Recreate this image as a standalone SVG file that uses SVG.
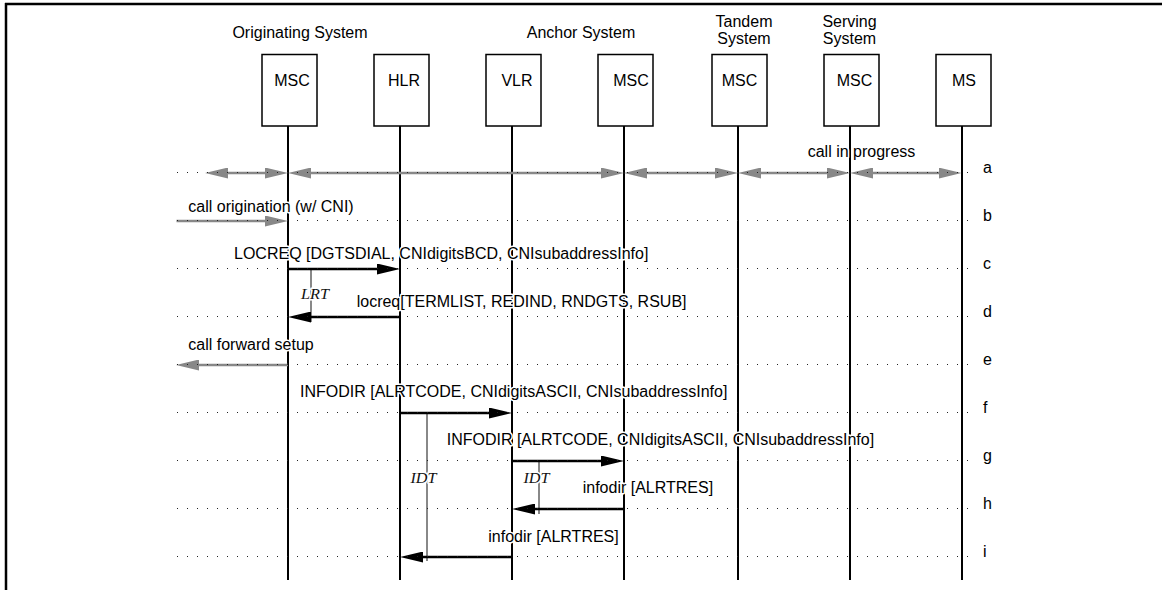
<svg xmlns="http://www.w3.org/2000/svg" width="1162" height="590" viewBox="0 0 1162 590">
<defs>
<style>
text{font-family:"Liberation Sans",Arial,sans-serif;font-size:16px;fill:#000;paint-order:stroke;stroke:#fff;stroke-width:3px;stroke-linejoin:round}
.hdr{text-anchor:middle}
.box{fill:#fff;stroke:#000;stroke-width:1.5}
.life{stroke:#000;stroke-width:2}
.row{stroke:#222;stroke-width:1;stroke-dasharray:1 9}
.blk{stroke:#000;stroke-width:2.3;fill:none}
.gry{stroke:#888;stroke-width:2.3;fill:none}
.tmr{stroke:#888;stroke-width:2}
.tl{font-family:"Liberation Serif","Times New Roman",serif;font-style:italic;font-size:15px;text-anchor:middle;fill:#111}
</style>
<marker id="hb" markerUnits="userSpaceOnUse" markerWidth="23" markerHeight="11" viewBox="0 0 23 11" refX="13" refY="5.5" orient="auto-start-reverse"><path d="M0,0 L23,5.5 L0,11 z" fill="#000"/></marker>
<marker id="hg" markerUnits="userSpaceOnUse" markerWidth="23" markerHeight="11" viewBox="0 0 23 11" refX="13" refY="5.5" orient="auto-start-reverse"><path d="M0,0 L23,5.5 L0,11 z" fill="#888"/></marker>
</defs>
<rect width="1162" height="590" fill="#fff"/>
<g id="frame" stroke="#000" stroke-width="2.5">
<line x1="5" y1="4" x2="1162" y2="4"/>
<line x1="6" y1="3" x2="6" y2="590"/>
</g>
<g id="headers">
<text class="hdr" x="300" y="38">Originating System</text>
<text class="hdr" x="581" y="38">Anchor System</text>
<text class="hdr" x="744" y="27">Tandem</text>
<text class="hdr" x="744" y="43.5">System</text>
<text class="hdr" x="849.5" y="27">Serving</text>
<text class="hdr" x="849.5" y="43.5">System</text>
</g>
<g id="lifelines">
<line class="life" x1="288" y1="126" x2="288" y2="580"/>
<line class="life" x1="400" y1="126" x2="400" y2="580"/>
<line class="life" x1="512" y1="126" x2="512" y2="580"/>
<line class="life" x1="624" y1="126" x2="624" y2="580"/>
<line class="life" x1="738" y1="126" x2="738" y2="580"/>
<line class="life" x1="850" y1="126" x2="850" y2="580"/>
<line class="life" x1="962" y1="126" x2="962" y2="580"/>
</g>
<g id="node-orig-msc"><rect class="box" x="262" y="54.5" width="55" height="71.5"/><text class="hdr" x="292" y="86">MSC</text></g>
<g id="node-hlr"><rect class="box" x="374" y="54.5" width="55" height="71.5"/><text class="hdr" x="404" y="86">HLR</text></g>
<g id="node-vlr"><rect class="box" x="486" y="54.5" width="55" height="71.5"/><text class="hdr" x="517" y="86">VLR</text></g>
<g id="node-anchor-msc"><rect class="box" x="598" y="54.5" width="55" height="71.5"/><text class="hdr" x="631" y="86">MSC</text></g>
<g id="node-tandem-msc"><rect class="box" x="712" y="54.5" width="55" height="71.5"/><text class="hdr" x="739.5" y="86">MSC</text></g>
<g id="node-serving-msc"><rect class="box" x="824" y="54.5" width="55" height="71.5"/><text class="hdr" x="854.5" y="86">MSC</text></g>
<g id="node-ms"><rect class="box" x="936" y="54.5" width="55" height="71.5"/><text class="hdr" x="964" y="86">MS</text></g>
<g id="timers">
<line class="tmr" x1="311" y1="269" x2="311" y2="322"/>
<line class="tmr" x1="427" y1="413" x2="427" y2="561"/>
<line class="tmr" x1="539" y1="461" x2="539" y2="514"/>
<text class="tl" x="315" y="298.5" textLength="28" lengthAdjust="spacingAndGlyphs">LRT</text>
<text class="tl" x="423.5" y="482.7" textLength="26" lengthAdjust="spacingAndGlyphs">IDT</text>
<text class="tl" x="536.5" y="482.7" textLength="26" lengthAdjust="spacingAndGlyphs">IDT</text>
</g>
<g id="connectors">
<line class="gry" x1="215" y1="173" x2="278" y2="173" marker-start="url(#hg)" marker-end="url(#hg)"/>
<line class="gry" x1="298" y1="173" x2="614" y2="173" marker-start="url(#hg)" marker-end="url(#hg)"/>
<line class="gry" x1="634" y1="173" x2="728" y2="173" marker-start="url(#hg)" marker-end="url(#hg)"/>
<line class="gry" x1="748" y1="173" x2="840" y2="173" marker-start="url(#hg)" marker-end="url(#hg)"/>
<line class="gry" x1="860" y1="173" x2="951.5" y2="173" marker-start="url(#hg)" marker-end="url(#hg)"/>
<line class="gry" x1="176.5" y1="221" x2="278" y2="221" marker-end="url(#hg)"/>
<line class="blk" x1="288" y1="269" x2="390" y2="269" marker-end="url(#hb)"/>
<line class="blk" x1="400" y1="317" x2="298" y2="317" marker-end="url(#hb)"/>
<line class="gry" x1="288" y1="365" x2="186" y2="365" marker-end="url(#hg)"/>
<line class="blk" x1="400" y1="413" x2="502" y2="413" marker-end="url(#hb)"/>
<line class="blk" x1="512" y1="461" x2="614" y2="461" marker-end="url(#hb)"/>
<line class="blk" x1="624" y1="509" x2="522" y2="509" marker-end="url(#hb)"/>
<line class="blk" x1="512" y1="557" x2="410" y2="557" marker-end="url(#hb)"/>
</g>
<g id="rows">
<line class="row" x1="177" y1="172.5" x2="968" y2="172.5"/>
<line class="row" x1="177" y1="220.5" x2="968" y2="220.5"/>
<line class="row" x1="177" y1="268.5" x2="968" y2="268.5"/>
<line class="row" x1="177" y1="316.5" x2="968" y2="316.5"/>
<line class="row" x1="177" y1="364.5" x2="968" y2="364.5"/>
<line class="row" x1="177" y1="412.5" x2="968" y2="412.5"/>
<line class="row" x1="177" y1="460.5" x2="968" y2="460.5"/>
<line class="row" x1="177" y1="508.5" x2="968" y2="508.5"/>
<line class="row" x1="177" y1="556.5" x2="968" y2="556.5"/>
</g>
<g id="labels">
<text x="807.7" y="157">call in progress</text>
<text x="188.3" y="211.7">call origination (w/ CNI)</text>
<text x="234" y="258.7">LOCREQ [DGTSDIAL, CNIdigitsBCD, CNIsubaddressInfo]</text>
<text x="356.7" y="306.7">locreq[TERMLIST, REDIND, RNDGTS, RSUB]</text>
<text x="188.3" y="350">call forward setup</text>
<text x="300" y="397.3">INFODIR [ALRTCODE, CNIdigitsASCII, CNIsubaddressInfo]</text>
<text x="446.7" y="445">INFODIR [ALRTCODE, CNIdigitsASCII, CNIsubaddressInfo]</text>
<text x="582.7" y="493.3">infodir [ALRTRES]</text>
<text x="488.3" y="541.7">infodir [ALRTRES]</text>
</g>
<g id="row-letters">
<text x="983" y="173">a</text>
<text x="983" y="221">b</text>
<text x="983" y="269">c</text>
<text x="983" y="317">d</text>
<text x="983" y="365">e</text>
<text x="983" y="413">f</text>
<text x="983" y="461">g</text>
<text x="983" y="509">h</text>
<text x="983" y="557">i</text>
</g>
</svg>
